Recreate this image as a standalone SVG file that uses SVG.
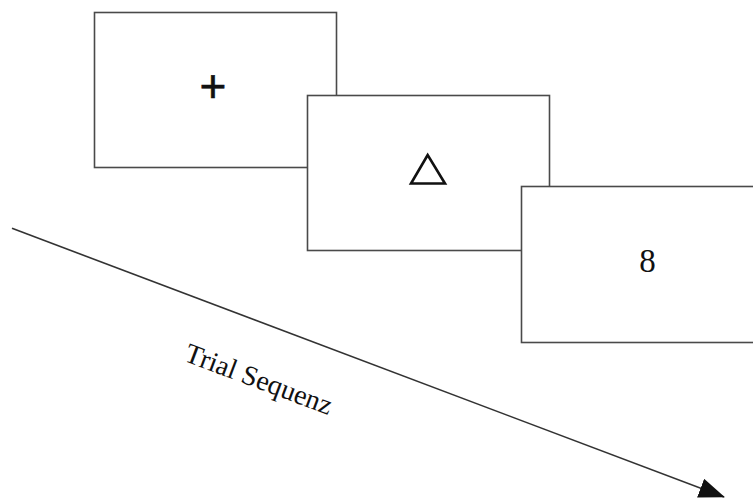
<svg xmlns="http://www.w3.org/2000/svg" width="753" height="498" viewBox="0 0 753 498">
<style>
.box{fill:#fff;stroke:#4a4a4a;stroke-width:1.6}
.lbl{font-family:"Liberation Serif",serif;fill:#111}
</style>
<defs>
<marker id="ah" markerWidth="26" markerHeight="20" refX="25" refY="10" orient="auto" markerUnits="userSpaceOnUse">
<path d="M0,0 L26,10 L0,20 z" fill="#111"/>
</marker>
</defs>
<rect width="753" height="498" fill="#fff"/>
<g id="screen1">
<rect class="box" x="94.5" y="12.5" width="242" height="155"/>
<text x="213" y="101.5" font-family="Liberation Sans,sans-serif" font-size="46" text-anchor="middle" fill="#111" stroke="#111" stroke-width="0.6">+</text>
</g>
<g id="screen2">
<rect class="box" x="307.5" y="95.5" width="242" height="155"/>
<polygon points="427.7,155 411,183.5 445,183.5" fill="none" stroke="#111" stroke-width="2.6" stroke-linejoin="miter"/>
</g>
<g id="screen3">
<rect class="box" x="521.5" y="186.5" width="242" height="156"/>
<text class="lbl" x="647.5" y="272" font-size="33" text-anchor="middle">8</text>
</g>
<g id="connectors">
<line x1="12" y1="228.3" x2="724" y2="497" stroke="#333" stroke-width="1.6" marker-end="url(#ah)"/>
<text class="lbl" x="183" y="360.5" font-size="28" transform="rotate(20.6 183 360.5)">Trial Sequenz</text>
</g>
</svg>
